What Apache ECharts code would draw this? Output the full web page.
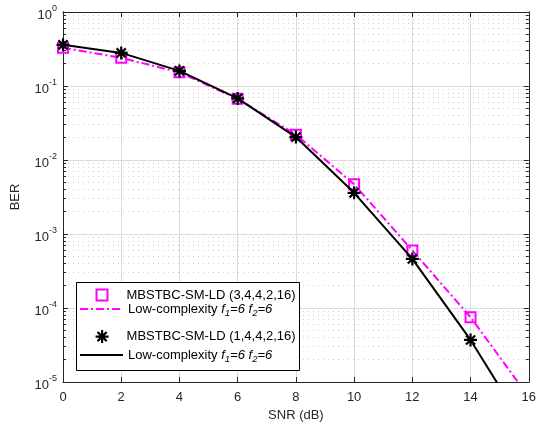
<!DOCTYPE html>
<html><head><meta charset="utf-8">
<script src="https://cdn.jsdelivr.net/npm/echarts@6/dist/echarts.min.js"></script>
<style>html,body{margin:0;padding:0;background:#fff}#c{width:539px;height:430px}</style>
</head><body><div id="c"></div>
<script>
const snr = [0, 2, 4, 6, 8, 10, 12, 14, 16];
const berMag = [0.33, 0.24, 0.153, 0.067, 0.022, 0.0047, 6.0e-4, 7.5e-5, 6.3e-6];
const berBlk = [0.36, 0.28, 0.16, 0.068, 0.0204, 0.0036, 4.6e-4, 3.7e-5, 2.0e-6];
const xTicks = [0, 2, 4, 6, 8, 10, 12, 14, 16];
const yMajor = [1e-5, 1e-4, 1e-3, 1e-2, 1e-1, 1];
const yMinor = [];
for (let e = -5; e < 0; e++) for (let m = 2; m <= 9; m++) yMinor.push(+(m * Math.pow(10, e)).toPrecision(3));
const names = ['MBSTBC-SM-LD (3,4,4,2,16)', 'lc1', 'MBSTBC-SM-LD (1,4,4,2,16)', 'lc2'];
const lcText = 'Low-complexity {i|f}{sub|1}{i|=6 f}{sub|2}{i|=6}';

const MAG = '#ff00ff';
const FONT = '"Liberation Sans", Arial, sans-serif';
const TXT = '#262626';
const ast = 'path://M5 0L5 10M0 5L10 5M1.5 1.5L8.5 8.5M8.5 1.5L1.5 8.5';
const sq = 'path://M0 0L10 0L10 10L0 10Z';
const clear = { color: 'rgba(0,0,0,0)', borderColor: 'rgba(0,0,0,0)', borderWidth: 0 };

const pairs = a => snr.map((x, i) => [x, a[i]]);
const legRich = { i: { fontStyle: 'italic', fontSize: 13, fontFamily: FONT, color: '#000' },
  sub: { fontStyle: 'italic', fontSize: 9.5, fontFamily: FONT, color: '#000', padding: [8, 0, 0, 0] } };
function leg(name, left, top, icon, itemStyle, w, h, padLeft) {
  const d = { name: name, itemStyle: itemStyle };
  if (icon) d.icon = icon;
  return { show: true, left: left, top: top, padding: 0, itemWidth: w, itemHeight: h, itemGap: 0,
    symbolKeepAspect: true,
    textStyle: { fontSize: 13, fontFamily: FONT, color: '#000', rich: legRich, padding: [0, 0, 0, padLeft] },
    formatter: n => (n === 'lc1' || n === 'lc2') ? lcText : n,
    data: [d], selectedMode: false, z: 10 };
}
const yLab = { show: true, fontSize: 12, fontFamily: FONT, color: TXT, margin: 6,
  formatter: v => '{b|10}{s|' + Math.round(Math.log10(v)) + '}',
  rich: { b: { fontSize: 13, fontFamily: FONT, color: TXT, padding: [6, 0, 0, 0] }, s: { fontSize: 9, fontFamily: FONT, color: TXT, padding: [0, 0, 6, 0] } } };
function yAx(pos, major, showLab) {
  return { type: 'log', logBase: 10, min: 1e-5, max: 1, position: pos,
    axisLine: { show: true, onZero: false, lineStyle: { color: '#262626', width: 1 } },
    axisTick: { show: true, inside: true, length: major ? 5 : 3, customValues: major ? yMajor : yMinor, lineStyle: { color: '#262626' } },
    axisLabel: showLab ? Object.assign({ customValues: yMajor }, yLab) : { show: false },
    splitLine: { show: pos === 'left', lineStyle: major ? { color: '#dcdcdc', width: 1 } : { color: '#cfcfcf', width: 1, type: [1, 4] } },
    name: showLab ? 'BER' : '', nameLocation: 'middle', nameGap: 41, nameRotate: 90,
    nameTextStyle: { fontSize: 13, fontFamily: FONT, color: TXT } };
}
const option = {
  animation: false,
  grid: { left: 63, top: 12, right: 7, bottom: 48 },
  xAxis: [
    { type: 'value', min: 0, max: 16, interval: 2, position: 'bottom',
      axisLine: { onZero: false, lineStyle: { color: '#262626' } },
      axisTick: { inside: true, length: 5, lineStyle: { color: '#262626' } },
      axisLabel: { fontSize: 13, fontFamily: FONT, color: TXT, margin: 9, formatter: v => String(v) },
      splitLine: { show: true, lineStyle: { color: '#dcdcdc' } },
      name: 'SNR (dB)', nameLocation: 'middle', nameGap: 25, nameTextStyle: { fontSize: 13, fontFamily: FONT, color: TXT } },
    { type: 'value', min: 0, max: 16, interval: 2, position: 'top',
      axisLine: { onZero: false, lineStyle: { color: '#262626' } },
      axisTick: { inside: true, length: 5, lineStyle: { color: '#262626' } },
      axisLabel: { show: false }, splitLine: { show: false } }
  ],
  yAxis: [yAx('left', true, true), yAx('left', false, false), yAx('right', true, false), yAx('right', false, false)],
  legend: [
    leg(names[0], 95.5, 288.5, sq, { color: 'rgba(0,0,0,0)', borderColor: MAG, borderWidth: 2 }, 11, 11, 14),
    leg(names[1], 79, 302.5, null, clear, 43, 14, 0),
    leg(names[2], 94.5, 329, ast, { color: 'rgba(0,0,0,0)', borderColor: '#000', borderWidth: 2.2 }, 13, 13, 13),
    leg(names[3], 79, 348.5, null, clear, 43, 14, 0)
  ],
  graphic: [{ type: 'rect', left: 76, top: 282, shape: { width: 223, height: 88 }, z: 8,
    style: { fill: '#fff', stroke: '#000', lineWidth: 1 } }],
  series: [
    { name: names[0], type: 'line', data: pairs(berMag), symbol: sq, symbolSize: 10,
      itemStyle: { color: 'rgba(0,0,0,0)', borderColor: MAG, borderWidth: 2 }, lineStyle: { width: 0, opacity: 0 }, z: 3 },
    { name: names[1], type: 'line', data: pairs(berMag), showSymbol: false, symbol: 'none',
      itemStyle: { color: MAG }, lineStyle: { color: MAG, width: 2, type: [8, 3, 2, 3] }, z: 2 },
    { name: names[2], type: 'line', data: pairs(berBlk), symbol: ast, symbolSize: 13,
      itemStyle: { color: 'rgba(0,0,0,0)', borderColor: '#000', borderWidth: 2.2 }, lineStyle: { width: 0, opacity: 0 }, z: 5 },
    { name: names[3], type: 'line', data: pairs(berBlk), showSymbol: false, symbol: 'none',
      itemStyle: { color: '#000' }, lineStyle: { color: '#000', width: 2 }, z: 4 }
  ]
};
const chart = echarts.init(document.getElementById('c'), null, { renderer: 'canvas' });
chart.setOption(option);
</script></body></html>
